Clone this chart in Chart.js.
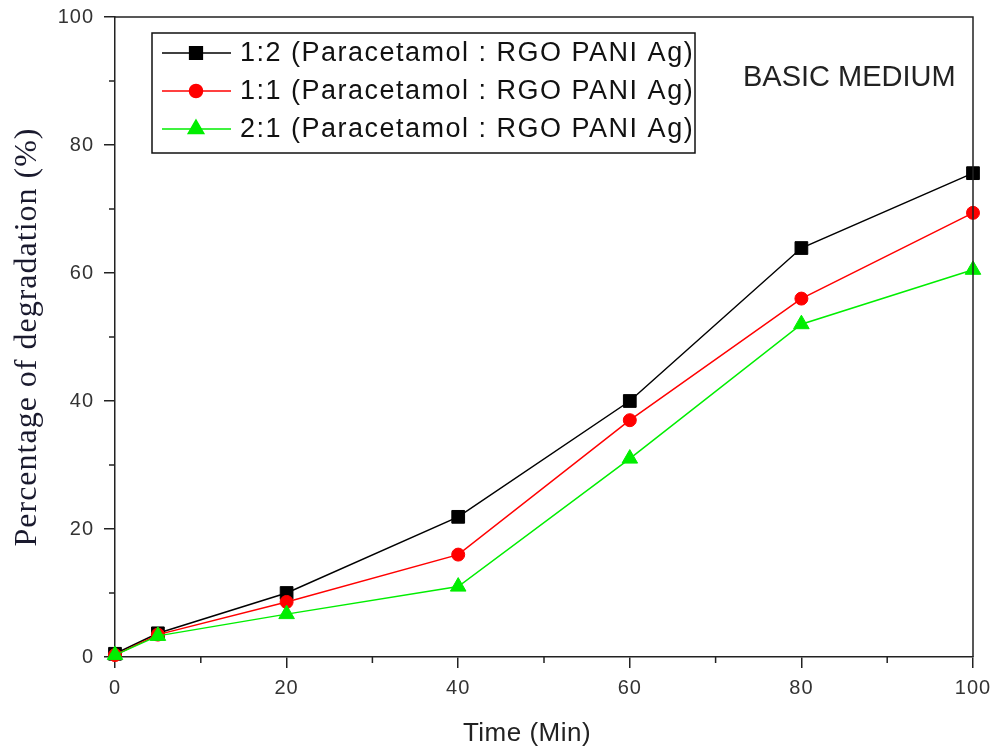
<!DOCTYPE html>
<html>
<head>
<meta charset="utf-8">
<script src="https://cdn.jsdelivr.net/npm/chart.js@4"></script>
<style>
  html, body { margin: 0; padding: 0; background: #fff; }
  #wrap { width: 995px; height: 751px; position: relative; }
</style>
</head>
<body>
<div id="wrap"><canvas id="degChart" width="995" height="751"></canvas></div>
<script>
const timeMin = [0, 5, 20, 40, 60, 80, 100];
const ratio12 = [0.5, 3.7, 10, 21.9, 40, 63.9, 75.6];
const ratio11 = [0.3, 3.5, 8.6, 16, 37, 56, 69.4];
const ratio21 = [0.3, 3.3, 6.7, 11, 31, 52, 60.5];
const xTicks = [0, 20, 40, 60, 80, 100];
const yTicks = [0, 20, 40, 60, 80, 100];

const axisColor = "#222";
const sansFont = "'Liberation Sans', Arial, sans-serif";

function toPoints(ys) {
  return timeMin.map((t, i) => ({ x: t, y: ys[i] }));
}

// frame, minor ticks, inner legend, x title and the medium label
const decorations = {
  id: "decorations",
  beforeDraw(chart) {
    chart.ctx.letterSpacing = "1px";
  },
  afterDraw(chart) {
    const ctx = chart.ctx;
    const area = chart.chartArea;
    const xs = chart.scales.x;
    const ys = chart.scales.y;
    ctx.save();
    ctx.strokeStyle = axisColor;
    ctx.lineWidth = 1.5;
    ctx.beginPath();
    ctx.moveTo(area.left, area.top);
    ctx.lineTo(area.right, area.top);
    ctx.lineTo(area.right, area.bottom);
    ctx.stroke();

    ctx.beginPath();
    for (let i = 0; i < xTicks.length - 1; i++) {
      const px = xs.getPixelForValue((xTicks[i] + xTicks[i + 1]) / 2);
      ctx.moveTo(px, area.bottom);
      ctx.lineTo(px, area.bottom + 6);
    }
    for (let i = 0; i < yTicks.length - 1; i++) {
      const py = ys.getPixelForValue((yTicks[i] + yTicks[i + 1]) / 2);
      ctx.moveTo(area.left, py);
      ctx.lineTo(area.left - 6, py);
    }
    ctx.stroke();

    // x axis title, sits a bit left of centre in the original
    ctx.letterSpacing = "0.5px";
    ctx.font = "26px " + sansFont;
    ctx.fillStyle = "#222";
    ctx.textAlign = "center";
    ctx.textBaseline = "middle";
    ctx.fillText("Time (Min)", 527, 734);

    // legend box
    ctx.lineWidth = 1.5;
    ctx.strokeStyle = "#111";
    ctx.strokeRect(152, 33, 543, 120);
    ctx.letterSpacing = "1.5px";
    ctx.font = "27px " + sansFont;
    ctx.textAlign = "left";
    chart.data.datasets.forEach((ds, i) => {
      const y = 53 + i * 38;
      ctx.strokeStyle = ds.borderColor;
      ctx.lineWidth = 1.5;
      ctx.beginPath();
      ctx.moveTo(162, y);
      ctx.lineTo(231, y);
      ctx.stroke();
      ctx.fillStyle = ds.pointBackgroundColor;
      Chart.helpers.drawPoint(ctx, {
        pointStyle: ds.pointStyle,
        radius: ds.pointRadius,
        borderWidth: 1,
        rotation: 0
      }, 196, y);
      ctx.fillStyle = "#111";
      ctx.fillText(ds.label, 240, y + 1);
    });

    ctx.letterSpacing = "0px";
    ctx.font = "29px " + sansFont;
    ctx.fillStyle = "#222";
    ctx.fillText("BASIC MEDIUM", 743, 78);
    ctx.restore();
  }
};

new Chart(document.getElementById("degChart"), {
  type: "line",
  data: {
    datasets: [
      {
        label: "1:2 (Paracetamol : RGO PANI Ag)",
        data: toPoints(ratio12),
        borderColor: "#000000",
        pointBackgroundColor: "#000000",
        pointStyle: "rect",
        pointRadius: 9,
        order: 3
      },
      {
        label: "1:1 (Paracetamol : RGO PANI Ag)",
        data: toPoints(ratio11),
        borderColor: "#ff0000",
        pointBackgroundColor: "#ff0000",
        pointStyle: "circle",
        pointRadius: 6.5,
        order: 2
      },
      {
        label: "2:1 (Paracetamol : RGO PANI Ag)",
        data: toPoints(ratio21),
        borderColor: "#00ee00",
        pointBackgroundColor: "#00ee00",
        pointStyle: "triangle",
        pointRadius: 9,
        order: 1
      }
    ]
  },
  options: {
    responsive: false,
    animation: false,
    clip: false,
    elements: {
      line: { borderWidth: 1.5, tension: 0 },
      point: { borderWidth: 1 }
    },
    layout: { padding: { top: 17, right: 22, left: 0, bottom: 0 } },
    plugins: {
      legend: { display: false },
      tooltip: { enabled: false }
    },
    scales: {
      x: {
        type: "linear",
        min: 0,
        max: 100,
        afterBuildTicks(scale) {
          scale.ticks = xTicks.map((v) => ({ value: v }));
        },
        afterFit(scale) {
          scale.height = 94;
          scale.paddingLeft = 0;
          scale.paddingRight = 0;
        },
        grid: { drawOnChartArea: false, tickLength: 11, color: axisColor, lineWidth: 1.5 },
        border: { color: axisColor, width: 1.5 },
        ticks: { color: "#333", padding: 8, maxRotation: 0, font: { family: sansFont, size: 20 } },
        title: { display: false }
      },
      y: {
        min: 0,
        max: 100,
        afterBuildTicks(scale) {
          scale.ticks = yTicks.map((v) => ({ value: v }));
        },
        afterFit(scale) {
          scale.width = 115;
          scale.paddingTop = 0;
          scale.paddingBottom = 0;
        },
        grid: { drawOnChartArea: false, tickLength: 11, color: axisColor, lineWidth: 1.5 },
        border: { color: axisColor, width: 1.5 },
        ticks: { color: "#333", padding: 10, font: { family: sansFont, size: 20 } },
        title: {
          display: true,
          text: "Percentage of degradation (%)",
          color: "#1a1a2e",
          font: { family: "'Liberation Serif', 'Times New Roman', serif", size: 32, lineHeight: 1.2 },
          padding: { top: 8, bottom: 0 }
        }
      }
    }
  },
  plugins: [decorations]
});
</script>
</body>
</html>
